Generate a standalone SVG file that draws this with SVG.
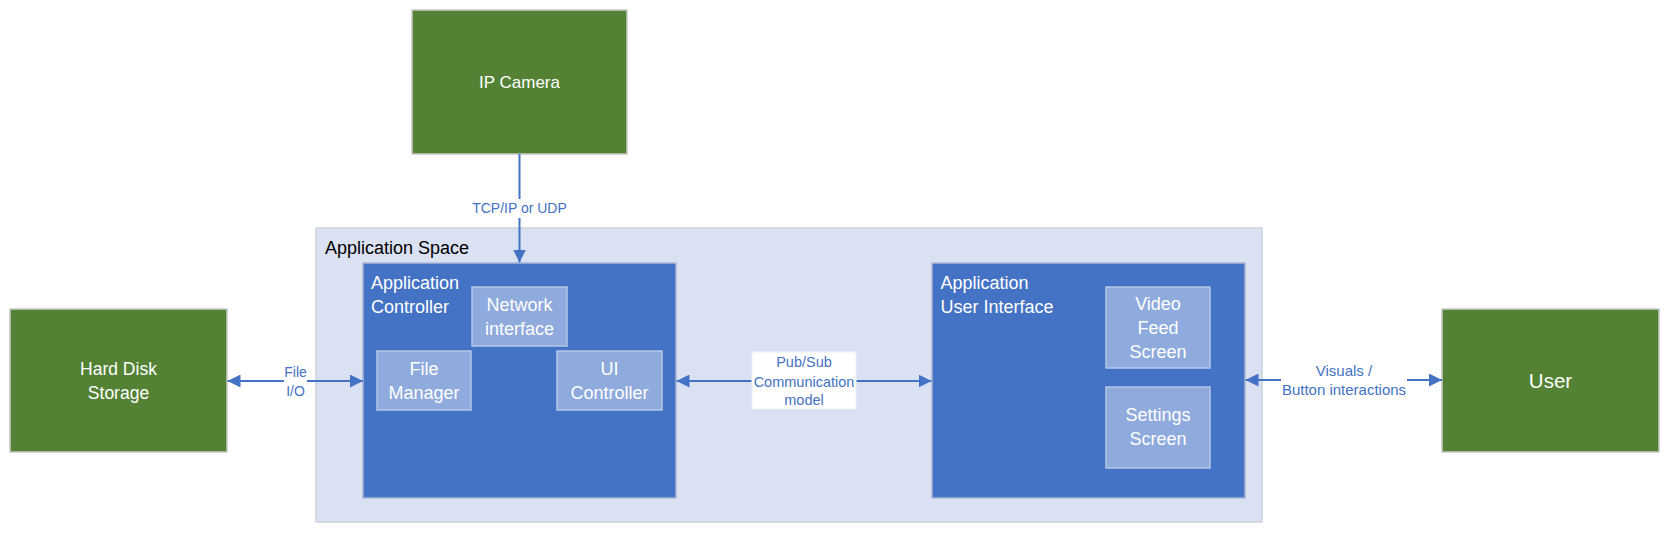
<svg xmlns="http://www.w3.org/2000/svg" width="1669" height="533" viewBox="0 0 1669 533">
<style>
  text { font-family: "Liberation Sans", Arial, sans-serif; }
  .green { fill: #548235; stroke: #C8C8C8; stroke-width: 1.5; }
  .space { fill: #DAE1F3; stroke: #CDD2DE; stroke-width: 1.5; }
  .app { fill: #4472C4; stroke: #AAB8D6; stroke-width: 1.5; }
  .sub { fill: #8FAADC; stroke: #B4C7E7; stroke-width: 1.5; }
  .big { font-size: 18px; fill: #FFFFFF; }
  .bigc { font-size: 18px; fill: #FFFFFF; text-anchor: middle; }
  .title { font-size: 18px; fill: #000000; }
  .lbl { font-size: 14px; fill: #4472C4; text-anchor: middle; }
  .conn { stroke: #4472C4; stroke-width: 2; fill: none; marker-end: url(#ah); }
  .conn2 { stroke: #4472C4; stroke-width: 2; fill: none; marker-start: url(#ah); marker-end: url(#ah); }
</style>
<defs>
  <marker id="ah" viewBox="0 0 13 13" refX="13" refY="6.5" markerWidth="13" markerHeight="13" markerUnits="userSpaceOnUse" orient="auto-start-reverse">
    <path d="M0,0 L13,6.5 L0,13 z" fill="#4472C4"/>
  </marker>
</defs>
<rect width="1669" height="533" fill="#FFFFFF"/>

<g id="ip-camera">
  <rect class="green" x="412" y="10" width="215" height="144"/>
  <text x="519.5" y="88" style="font-size:17px;fill:#FFFFFF;text-anchor:middle">IP Camera</text>
</g>

<g id="hard-disk">
  <rect class="green" x="10" y="309" width="217" height="143"/>
  <text class="bigc" x="118.5" y="375" style="font-size:17.5px">Hard Disk</text>
  <text class="bigc" x="118.5" y="399" style="font-size:17.5px">Storage</text>
</g>

<g id="user">
  <rect class="green" x="1442" y="309" width="217" height="143"/>
  <text x="1550.5" y="388" style="font-size:20.5px;fill:#FFFFFF;text-anchor:middle">User</text>
</g>

<g id="application-space">
  <rect class="space" x="316" y="228" width="946" height="294"/>
  <text class="title" x="325" y="254">Application Space</text>
</g>

<g id="application-controller">
  <rect class="app" x="363" y="263" width="313" height="235"/>
  <text class="big" x="371" y="289">Application</text>
  <text class="big" x="371" y="313">Controller</text>
</g>

<g id="network-interface">
  <rect class="sub" x="472" y="287" width="95" height="59"/>
  <text class="bigc" x="519.5" y="311">Network</text>
  <text class="bigc" x="519.5" y="335">interface</text>
</g>

<g id="file-manager">
  <rect class="sub" x="377" y="351" width="94" height="59"/>
  <text class="bigc" x="424" y="375">File</text>
  <text class="bigc" x="424" y="399">Manager</text>
</g>

<g id="ui-controller">
  <rect class="sub" x="557" y="351" width="105" height="59"/>
  <text class="bigc" x="609.5" y="375">UI</text>
  <text class="bigc" x="609.5" y="399">Controller</text>
</g>

<g id="application-user-interface">
  <rect class="app" x="932" y="263" width="313" height="235"/>
  <text class="big" x="940.5" y="289">Application</text>
  <text class="big" x="940.5" y="313">User Interface</text>
</g>

<g id="video-feed-screen">
  <rect class="sub" x="1106" y="287" width="104" height="81"/>
  <text class="bigc" x="1158" y="310">Video</text>
  <text class="bigc" x="1158" y="334">Feed</text>
  <text class="bigc" x="1158" y="358">Screen</text>
</g>

<g id="settings-screen">
  <rect class="sub" x="1106" y="387" width="104" height="81"/>
  <text class="bigc" x="1158" y="421">Settings</text>
  <text class="bigc" x="1158" y="445">Screen</text>
</g>

<g id="connectors">
  <!-- IP Camera to Application Controller -->
  <path class="conn" d="M519.5,154 L519.5,262.5"/>
  <rect x="470" y="199" width="100" height="19" fill="#FFFFFF"/>
  <text class="lbl" x="519.5" y="213">TCP/IP or UDP</text>

  <!-- Hard Disk <-> Application Controller -->
  <path class="conn2" d="M227.5,381 L363,381"/>
  <rect x="284" y="364" width="23" height="36" fill="#FFFFFF"/>
  <text class="lbl" x="295.5" y="377">File</text>
  <text class="lbl" x="295.5" y="396">I/O</text>

  <!-- Application Controller <-> Application UI -->
  <path class="conn2" d="M676.5,381 L931.5,381"/>
  <rect x="752" y="352" width="104" height="57" fill="#FFFFFF" stroke="#F0F0F0" stroke-width="1"/>
  <text class="lbl" x="804" y="367" style="font-size:14.5px">Pub/Sub</text>
  <text class="lbl" x="804" y="387" style="font-size:14.5px">Communication</text>
  <text class="lbl" x="804" y="405" style="font-size:14.5px">model</text>

  <!-- Application UI <-> User -->
  <path class="conn2" d="M1245.5,380 L1442,380"/>
  <rect x="1281" y="362" width="126" height="38" fill="#FFFFFF"/>
  <text class="lbl" x="1344" y="376" style="font-size:15px">Visuals /</text>
  <text class="lbl" x="1344" y="395" style="font-size:15px">Button interactions</text>
</g>
</svg>
